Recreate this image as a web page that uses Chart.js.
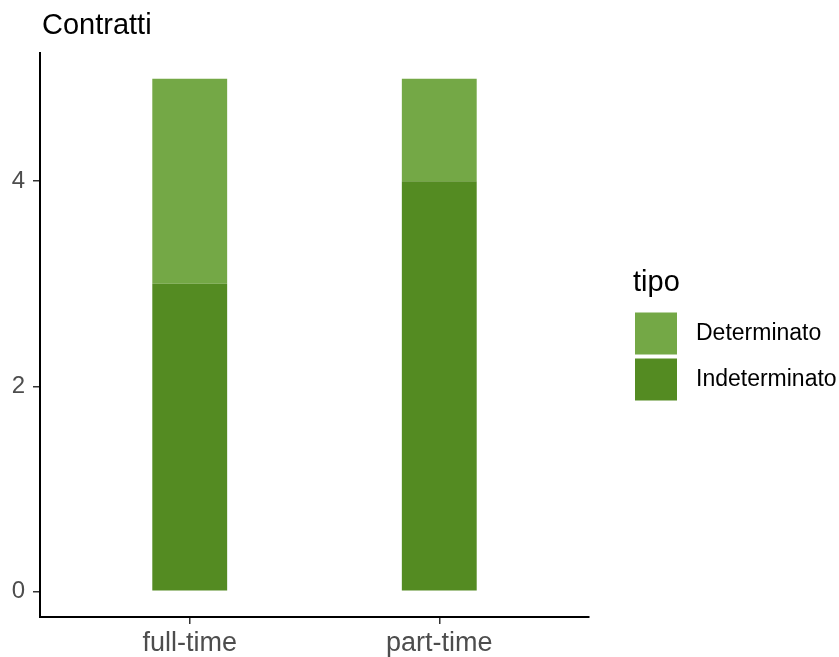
<!DOCTYPE html>
<html>
<head>
<meta charset="utf-8">
<script src="https://cdn.jsdelivr.net/npm/chart.js@4/dist/chart.umd.min.js"></script>
<style>
  html, body { margin: 0; padding: 0; background: #fff; }
  #wrap { width: 839px; height: 657px; }
</style>
</head>
<body>
<div id="wrap"><canvas id="chart" width="839" height="657"></canvas></div>
<script>
// dati
const titolo = 'Contratti';
const legendaTitolo = 'tipo';
const categorie = ['full-time', 'part-time'];
const indeterminato = [3, 4];
const determinato = [2, 1];
const yTicks = [0, 2, 4];

const FONT = "'Liberation Sans', Arial, sans-serif";

// posizione x di ogni categoria: 1, 2, ...
const punti = valori => valori.map((v, i) => ({ x: i + 1, y: v }));

const titoloPlugin = {
    id: 'titoloPlugin',
    afterDraw(chart) {
        const ctx = chart.ctx;
        ctx.save();
        ctx.font = `29px ${FONT}`;
        ctx.fillStyle = '#000';
        ctx.textBaseline = 'middle';
        ctx.textAlign = 'left';
        ctx.fillText(titolo, chart.chartArea.left + 2, 26);
        ctx.restore();
    }
};

// legenda in stile ggplot, costruita dai dataset (ordine inverso)
const legendaPlugin = {
    id: 'legendaPlugin',
    afterDraw(chart) {
        const ctx = chart.ctx;
        const x0 = chart.chartArea.right + 46;
        ctx.save();
        ctx.textAlign = 'left';
        ctx.fillStyle = '#000';
        ctx.font = `29px ${FONT}`;
        ctx.textBaseline = 'alphabetic';
        ctx.fillText(legendaTitolo, x0 - 2, 291);

        const items = chart.data.datasets.slice().reverse();
        ctx.font = `23px ${FONT}`;
        ctx.textBaseline = 'middle';
        items.forEach((ds, i) => {
            const y = 312.5 + i * 46;
            ctx.fillStyle = ds.backgroundColor;
            ctx.fillRect(x0, y, 42, 42);
            ctx.fillStyle = '#000';
            ctx.fillText(ds.label, x0 + 61, y + 21.5);
        });
        ctx.restore();
    }
};

const ctx = document.getElementById('chart').getContext('2d');

new Chart(ctx, {
    type: 'bar',
    data: {
        datasets: [
            {
                label: 'Indeterminato',
                data: punti(indeterminato),
                backgroundColor: '#548B22',
                borderWidth: 0
            },
            {
                label: 'Determinato',
                data: punti(determinato),
                backgroundColor: '#74A846',
                borderWidth: 0
            }
        ]
    },
    options: {
        responsive: false,
        animation: false,
        layout: { padding: { left: 0, right: 250, top: 53, bottom: 0 } },
        datasets: { bar: { barPercentage: 0.30, categoryPercentage: 1 } },
        scales: {
            x: {
                type: 'linear',
                stacked: true,
                offset: false,
                min: 0.4,
                max: 2.6,
                afterBuildTicks: scale => {
                    scale.ticks = categorie.map((c, i) => ({ value: i + 1 }));
                },
                afterFit: scale => { scale.height = 40; },
                ticks: {
                    callback: v => categorie[v - 1],
                    color: '#4D4D4D',
                    font: { family: FONT, size: 27 },
                    padding: 3,
                    maxRotation: 0
                },
                grid: {
                    offset: false,
                    drawOnChartArea: false,
                    drawTicks: true,
                    tickLength: 7,
                    color: '#333333',
                    lineWidth: 1.5
                },
                border: { display: true, color: '#000', width: 2 }
            },
            y: {
                stacked: true,
                min: -0.25,
                max: 5.25,
                afterBuildTicks: scale => {
                    scale.ticks = yTicks.map(v => ({ value: v }));
                },
                afterFit: scale => { scale.width = 40; },
                ticks: {
                    color: '#4D4D4D',
                    font: { family: FONT, size: 24 },
                    padding: 8
                },
                grid: {
                    drawOnChartArea: false,
                    drawTicks: true,
                    tickLength: 7,
                    color: '#333333',
                    lineWidth: 1.5
                },
                border: { display: true, color: '#000', width: 2 }
            }
        },
        plugins: {
            legend: { display: false },
            tooltip: { enabled: false }
        }
    },
    plugins: [titoloPlugin, legendaPlugin]
});
</script>
</body>
</html>
